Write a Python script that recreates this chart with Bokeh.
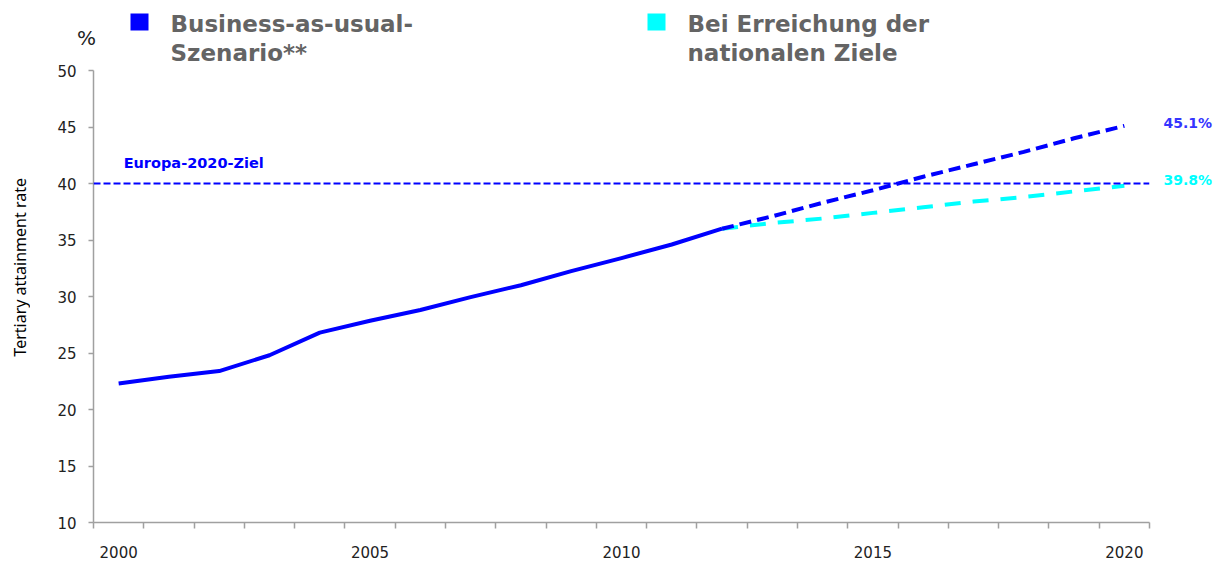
import math
from bokeh.plotting import figure
from bokeh.layouts import column, row
from bokeh.models import Range1d, FixedTicker, Span, Label
from bokeh.core.properties import value
from bokeh.embed import file_html
from bokeh.resources import INLINE

# ---- data ----
years_actual = [2000, 2001, 2002, 2003, 2004, 2005, 2006, 2007, 2008, 2009, 2010, 2011, 2012]
rate_actual = [22.3, 22.9, 23.4, 24.8, 26.8, 27.85, 28.8, 29.95, 31.0, 32.25, 33.4, 34.6, 36.0]
years_proj = [2012, 2013, 2014, 2015, 2016, 2017, 2018, 2019, 2020]
rate_bau = [36.0, 37.1, 38.3, 39.4, 40.6, 41.7, 42.8, 44.0, 45.1]
rate_national = [36.0, 36.5, 36.9, 37.4, 37.9, 38.4, 38.8, 39.3, 39.8]
eu_target = 40.0
year_ticks = [2000, 2005, 2010, 2015, 2020]
y_ticks = [10, 15, 20, 25, 30, 35, 40, 45, 50]
legend_bau = ["Business-as-usual-", "Szenario**"]
legend_nat = ["Bei Erreichung der", "nationalen Ziele"]
target_label = "Europa-2020-Ziel"
y_label = "Tertiary attainment rate"
unit_label = "%"

BLUE = "#0000FF"
CYAN = "#00FFFF"
AXIS = "#A0A0A0"
TXT = "#222222"
LEG = "#646464"

TOTAL_W = 1218
HEADER_H = 64
LEFT_W = 30
RIGHT_W = 61
MAIN_W = TOTAL_W - LEFT_W - RIGHT_W
MAIN_H = 496
FRAME_LEFT = 93 - LEFT_W


def bare(fig):
    fig.outline_line_color = None
    fig.xgrid.visible = False
    fig.ygrid.visible = False
    return fig


# ---------- header (legend + unit) ----------
hdr = bare(figure(width=TOTAL_W, height=HEADER_H, output_backend="svg", toolbar_location=None,
                  x_range=Range1d(0, TOTAL_W), y_range=Range1d(HEADER_H, 0),
                  x_axis_type=None, y_axis_type=None,
                  min_border=0, min_border_left=0, min_border_right=0,
                  min_border_top=0, min_border_bottom=0))
legend_x = [130, 647]
legend_colors = [BLUE, CYAN]
legend_texts = [legend_bau, legend_nat]
hdr.quad(left=legend_x, right=[x + 18 for x in legend_x], top=[13, 13], bottom=[30, 30],
         fill_color=legend_colors, line_color=None)
tx, ty, tt = [], [], []
for lx, lines in zip(legend_x, legend_texts):
    for i, t in enumerate(lines):
        tx.append(lx + 40)
        ty.append(23 + 29 * i)
        tt.append(t)
hdr.text(x=tx, y=ty, text=tt, text_font=value("DejaVu Sans"), text_font_style="bold",
         text_font_size="23px", text_color=LEG, text_baseline="alphabetic")
hdr.text(x=[86], y=[37], text=[unit_label], text_font=value("DejaVu Sans"),
         text_font_size="20px", text_color=TXT, text_baseline="middle", text_align="center")

# ---------- left strip with the rotated axis title ----------
lft = bare(figure(width=LEFT_W, height=MAIN_H, output_backend="svg", toolbar_location=None,
                  x_range=Range1d(0, LEFT_W), y_range=Range1d(0, MAIN_H),
                  x_axis_type=None, y_axis_type=None,
                  min_border=0, min_border_left=0, min_border_right=0,
                  min_border_top=0, min_border_bottom=0))
lft.text(x=[19], y=[MAIN_H - 216], text=[y_label], angle=math.pi / 2,
         text_font=value("Noto Sans"), text_font_size="16px", text_color="#000000",
         text_align="center", text_baseline="middle")

# ---------- main chart ----------
p = bare(figure(width=MAIN_W, height=MAIN_H, output_backend="svg", toolbar_location=None,
                x_range=Range1d(1999.5, 2020.5), y_range=Range1d(10, 50),
                min_border_left=FRAME_LEFT, min_border_right=8,
                min_border_top=6, min_border_bottom=36))

xa = p.xaxis[0]
xa.ticker = FixedTicker(ticks=year_ticks,
                        minor_ticks=[y - 0.5 for y in range(2000, 2022)])
xa.major_tick_out = 0
xa.major_tick_in = 0
xa.minor_tick_out = 6
xa.minor_tick_in = 0
xa.minor_tick_line_color = AXIS
xa.minor_tick_line_width = 1.5
xa.axis_line_color = AXIS
xa.axis_line_width = 1.5
xa.major_label_standoff = 17
xa.major_label_text_font = "DejaVu Sans"
xa.major_label_text_font_size = "15px"
xa.major_label_text_color = TXT

ya = p.yaxis[0]
ya.ticker = FixedTicker(ticks=y_ticks, minor_ticks=[])
ya.major_tick_out = 5
ya.major_tick_in = 0
ya.major_tick_line_color = AXIS
ya.major_tick_line_width = 1.5
ya.axis_line_color = AXIS
ya.axis_line_width = 1.5
ya.major_label_standoff = 12
ya.major_label_text_font = "DejaVu Sans"
ya.major_label_text_font_size = "15px"
ya.major_label_text_color = TXT

p.add_layout(Span(location=eu_target, dimension="width", line_color=BLUE,
                  line_width=2, line_dash="7 3"))

p.line(years_proj, rate_national, line_color=CYAN, line_width=4, line_dash="16 12")
p.line(years_proj, rate_bau, line_color=BLUE, line_width=4, line_dash="12 6")
p.line(years_actual, rate_actual, line_color=BLUE, line_width=4, line_join="round")

p.add_layout(Label(x=years_actual[0], y=eu_target, x_offset=5, y_offset=21, text=target_label,
                   text_font="DejaVu Sans", text_font_style="bold", text_font_size="14.5px",
                   text_color=BLUE, text_baseline="middle"))

# ---------- right strip with end values ----------
rt = bare(figure(width=RIGHT_W, height=MAIN_H, output_backend="svg",
                 toolbar_location=None, x_range=Range1d(0, RIGHT_W), y_range=p.y_range,
                 x_axis_type=None, y_axis_type=None,
                 min_border_left=0, min_border_right=0, min_border_top=6, min_border_bottom=36))
rt.text(x=[6, 6], y=[rate_bau[-1], rate_national[-1]],
        text=[f"{rate_bau[-1]}%", f"{rate_national[-1]}%"],
        y_offset=[-3, -5.5], text_color=["#3535FF", CYAN],
        text_font=value("DejaVu Sans"), text_font_style="bold", text_font_size="14px",
        text_baseline="middle")

layout = column(hdr, row(lft, p, rt, spacing=0), spacing=0)
open("out.html", "w").write(file_html(layout, INLINE))
